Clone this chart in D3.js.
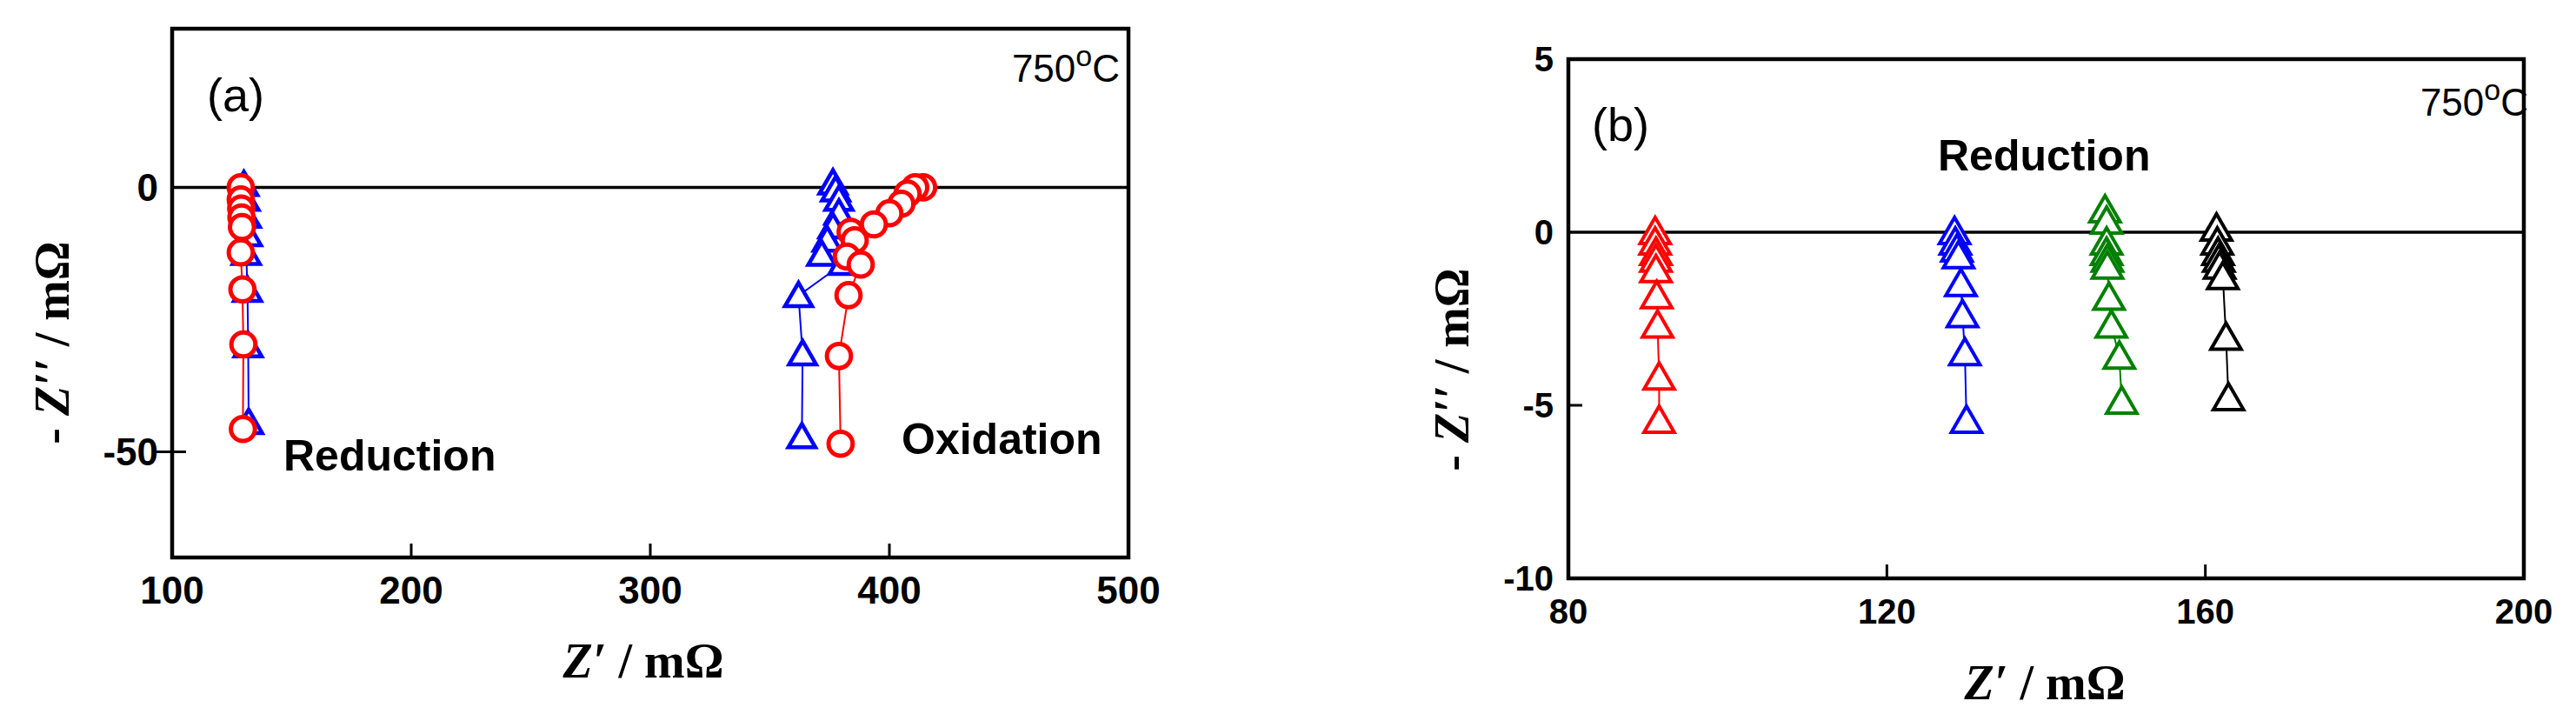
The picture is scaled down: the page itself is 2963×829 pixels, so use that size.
<!DOCTYPE html>
<html><head><meta charset="utf-8">
<script src="https://cdn.jsdelivr.net/npm/d3@7"></script>
<style>body{margin:0;background:#fff}</style></head>
<body><svg id="c" width="2963" height="829"></svg>
<script>
// Panel (a) data: [Z', -Z'']
const aRedRed = [[128.7,0],[128.7,-2.3],[128.9,-4],[129,-5.7],[129.2,-7.5],[128.7,-12.3],[129.4,-19.3],[129.8,-29.7],[129.6,-45.7]];
const aRedBlue = [[130,0.5],[130.5,-2.3],[131,-5.5],[131.5,-9],[131,-12.5],[131.5,-19.5],[131.8,-30],[132,-44.5]];
const aOxBlue = [[376.4,0.8],[377.5,-0.5],[378.9,-2.3],[378.9,-4.9],[376.4,-7.5],[374,-10],[371.7,-12.7],[380.6,-14.4],[362,-20.5],[363.7,-31.5],[363.4,-47.2]];
const aOxRed = [[414.1,0],[410.8,0],[407.6,-1.2],[405,-3.1],[400,-4.9],[393.5,-7],[383.8,-8.4],[385.5,-10],[382.2,-13.1],[388,-14.6],[382.9,-20.4],[378.9,-31.9],[379.6,-48.5]];
const aXTicks = [100,200,300,400,500];
const aYTicks = [0,-50];
// Panel (b) data
const bRed = [[90.9,0],[90.9,-0.3],[91,-0.6],[91,-0.8],[91,-1.1],[91.1,-1.85],[91.2,-2.7],[91.4,-4.2],[91.4,-5.45]];
const bBlue = [[128.5,0],[128.6,-0.3],[128.8,-0.5],[129,-0.7],[129.3,-1.5],[129.5,-2.4],[129.8,-3.5],[130,-5.45]];
const bGreen = [[147.4,0.63],[147.6,0.3],[147.6,-0.3],[147.6,-0.6],[147.7,-0.8],[147.7,-1.0],[147.9,-1.9],[148.2,-2.7],[149.2,-3.6],[149.5,-4.9]];
const bBlack = [[161.4,0.1],[161.5,-0.3],[161.6,-0.6],[161.7,-0.8],[161.8,-1.0],[162.2,-1.3],[162.6,-3.05],[162.9,-4.8]];
const bXTicks = [80,120,160,200];
const bYTicks = [5,0,-5,-10];

const svg = d3.select('#c');
const numFont = '"Liberation Sans Narrow","Liberation Sans",Arial,sans-serif';

function panel(o){
  const x = d3.scaleLinear().domain(o.xd).range([o.l,o.r]);
  const y = d3.scaleLinear().domain(o.yd).range([o.b,o.t]);
  const g = svg.append('g');
  g.append('line').attr('x1',o.l).attr('x2',o.r).attr('y1',y(0)).attr('y2',y(0)).attr('stroke','#000').attr('stroke-width',3.5);
  o.xTicks.slice(1,-1).forEach(v=>g.append('line').attr('x1',x(v)).attr('x2',x(v)).attr('y1',o.b).attr('y2',o.b-16).attr('stroke','#000').attr('stroke-width',3));
  o.yTicks.filter(v=>v!==o.yd[0]&&v!==o.yd[1]&&v!==0).forEach(v=>g.append('line').attr('x1',o.l-(o.yOut||0)).attr('x2',o.l+16).attr('y1',y(v)).attr('y2',y(v)).attr('stroke','#000').attr('stroke-width',3));
  o.xTicks.forEach(v=>g.append('text').attr('x',x(v)).attr('y',o.xlY).attr('text-anchor','middle').attr('dominant-baseline','central')
    .attr('font-family',numFont).attr('font-weight','bold').attr('font-size',o.fs).text(v));
  o.yTicks.forEach(v=>g.append('text').attr('x',o.ylX).attr('y',y(v)).attr('text-anchor','end').attr('dominant-baseline','central')
    .attr('font-family',numFont).attr('font-weight','bold').attr('font-size',o.fs).text(v));
  o.series.forEach(s=>{
    const pts = s.data.map(d=>[x(d[0]),y(d[1])]);
    g.append('path').attr('d',d3.line()(pts)).attr('fill','none').attr('stroke',s.color).attr('stroke-width',2);
    const sym = d3.symbol().type(s.shape==='circle'?d3.symbolCircle:d3.symbolTriangle).size(s.size);
    g.selectAll(null).data(pts).enter().append('path').attr('d',sym)
      .attr('transform',p=>`translate(${p[0]},${p[1]+(s.shape==='circle'?0:3)})`)
      .attr('fill','#fff').attr('stroke',s.color).attr('stroke-width',s.sw);
  });
  g.append('rect').attr('x',o.l).attr('y',o.t).attr('width',o.r-o.l).attr('height',o.b-o.t).attr('fill','none').attr('stroke','#000').attr('stroke-width',4.5);
  const tf = '"Liberation Serif","Times New Roman",serif';
  const xt = g.append('text').attr('x',o.xtX).attr('y',o.xtY).attr('text-anchor','middle').attr('dominant-baseline','central')
    .attr('font-family',tf).attr('font-weight','bold').attr('font-size',56);
  xt.append('tspan').attr('font-style','italic').text('Z′');
  xt.append('tspan').text(' / mΩ');
  const yt = g.append('text').attr('transform',`translate(${o.ytX},${o.ytY}) rotate(-90)`).attr('text-anchor','middle').attr('dominant-baseline','central')
    .attr('font-family',tf).attr('font-weight','bold').attr('font-size',56);
  yt.append('tspan').text('- ');
  yt.append('tspan').attr('font-style','italic').text('Z′′');
  yt.append('tspan').text(' / mΩ');
  g.append('text').attr('x',o.lab[0]).attr('y',o.lab[1]).attr('font-family','"Liberation Sans",Arial,sans-serif').attr('font-size',54).text(o.lab[2]);
  const tc = g.append('text').attr('x',o.temp[0]).attr('y',o.temp[1]).attr('text-anchor','end').attr('font-family',numFont).attr('font-size',44);
  tc.append('tspan').text('750');
  tc.append('tspan').attr('dy',-18).attr('font-size',34).text('o');
  tc.append('tspan').attr('dy',18).text('C');
  o.notes.forEach(n=>g.append('text').attr('x',n[0]).attr('y',n[1]).attr('font-family',numFont).attr('font-weight','bold').attr('font-size',50).text(n[2]));
}

panel({l:198,r:1298,t:33,b:641,xd:[100,500],yd:[-70,30],xTicks:aXTicks,yTicks:aYTicks,fs:44,xlY:678,ylX:182,yOut:18,
  xtX:740,xtY:760,ytX:60,ytY:394,lab:[238,128,'(a)'],temp:[1288,94],notes:[[326,541,'Reduction'],[1037,522,'Oxidation']],
  series:[
    {data:aRedBlue,color:'#0000ff',shape:'tri',size:420,sw:4.5},
    {data:aRedRed,color:'#ff0000',shape:'circle',size:600,sw:5},
    {data:aOxBlue,color:'#0000ff',shape:'tri',size:420,sw:4.5},
    {data:aOxRed,color:'#ff0000',shape:'circle',size:600,sw:5}
  ]});
panel({l:1804,r:2903,t:68,b:665,xd:[80,200],yd:[-10,5],xTicks:bXTicks,yTicks:bYTicks,fs:40,xlY:703,ylX:1787,yOut:0,
  xtX:2352,xtY:785,ytX:1670,ytY:425,lab:[1831,162,'(b)'],temp:[2908,133],notes:[[2229,196,'Reduction']],
  series:[
    {data:bRed,color:'#ff0000',shape:'tri',size:520,sw:4},
    {data:bBlue,color:'#0000ff',shape:'tri',size:520,sw:4},
    {data:bGreen,color:'#008000',shape:'tri',size:520,sw:4},
    {data:bBlack,color:'#000000',shape:'tri',size:520,sw:4}
  ]});
</script></body></html>
